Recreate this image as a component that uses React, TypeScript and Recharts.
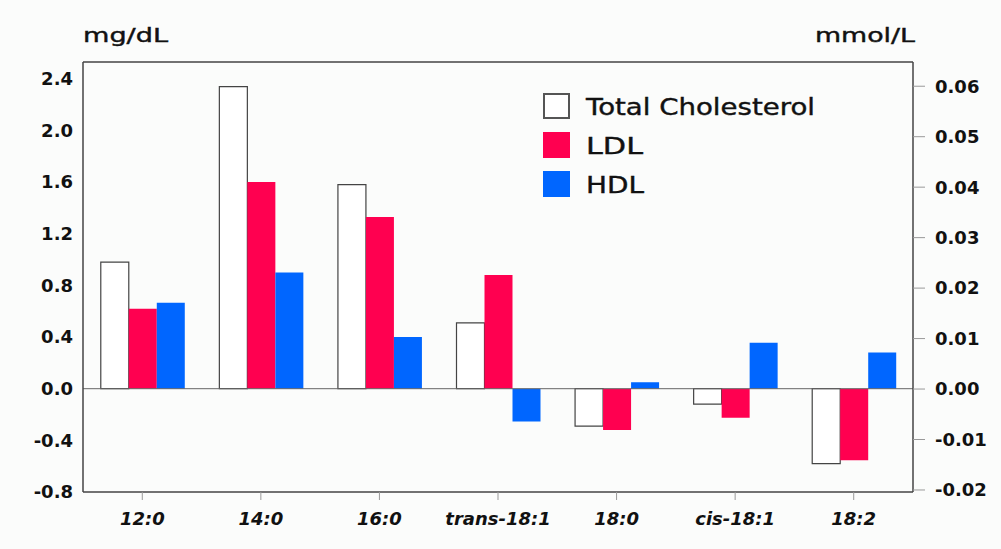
import { ComposedChart, Bar, Line, XAxis, YAxis, ReferenceLine } from "recharts";

const categories = ["12:0", "14:0", "16:0", "trans-18:1", "18:0", "cis-18:1", "18:2"];
const totalCholesterol = [0.98, 2.34, 1.58, 0.51, -0.29, -0.12, -0.58];
const ldl = [0.62, 1.6, 1.33, 0.88, -0.32, -0.225, -0.555];
const hdl = [0.665, 0.9, 0.4, -0.255, 0.05, 0.355, 0.28];

const leftTicks = [-0.8, -0.4, 0, 0.4, 0.8, 1.2, 1.6, 2.0, 2.4];
const rightTicks = [-0.02, -0.01, 0, 0.01, 0.02, 0.03, 0.04, 0.05, 0.06];

const series = [
  { key: "tc", name: "Total Cholesterol", fill: "#ffffff", stroke: "#444" },
  { key: "ldl", name: "LDL", fill: "#ff0050", stroke: "none" },
  { key: "hdl", name: "HDL", fill: "#0066ff", stroke: "none" },
];

const LEFT_MAX = 2.53;
const font = "'DejaVu Sans', sans-serif";

const data = categories.map((c, i) => ({
  name: c,
  tc: totalCholesterol[i],
  ldl: ldl[i],
  hdl: hdl[i],
}));

const App = () => {
  return (
    <div style={{ position: "absolute", left: 0, top: 0, width: 1001, height: 549, background: "#fbfcfb" }}>
      <ComposedChart
        width={1001}
        height={549}
        data={data}
        margin={{ top: 62, right: 8, bottom: 17, left: 23 }}
        barCategoryGap="15%"
        barGap={0}
      >
        <XAxis
          dataKey="name"
          height={40}
          axisLine={{ stroke: "#444", strokeWidth: 1.5 }}
          tickLine={{ stroke: "#999" }}
          tickSize={8}
          tickMargin={12}
          tick={{ fontFamily: font, fontSize: 18, fontWeight: "bold", fontStyle: "italic", fill: "#111" }}
        />
        <YAxis
          yAxisId="left"
          width={60}
          domain={[-0.8, LEFT_MAX]}
          ticks={leftTicks}
          tickFormatter={(v: number) => v.toFixed(1)}
          axisLine={{ stroke: "#444", strokeWidth: 1.5 }}
          tickLine={false}
          tickSize={0}
          tickMargin={10}
          tick={{ fontFamily: font, fontSize: 18, fontWeight: "bold", fill: "#111" }}
        />
        <YAxis
          yAxisId="right"
          orientation="right"
          width={80}
          domain={[-0.0204, 0.0648]}
          ticks={rightTicks}
          allowDataOverflow
          tickFormatter={(v: number) => v.toFixed(2)}
          axisLine={{ stroke: "#444", strokeWidth: 1.5 }}
          tickLine={{ stroke: "#999" }}
          tickSize={12}
          tickMargin={10}
          tick={{ fontFamily: font, fontSize: 18, fontWeight: "bold", fill: "#111", textAnchor: "start" }}
        />
        <ReferenceLine yAxisId="left" y={LEFT_MAX} stroke="#444" strokeWidth={1.5} />
        <ReferenceLine yAxisId="left" y={0} stroke="#666" strokeWidth={1} />
        {series.map((s) => (
          <Bar
            key={s.key}
            yAxisId="left"
            dataKey={s.key}
            name={s.name}
            fill={s.fill}
            stroke={s.stroke}
            strokeWidth={1.2}
            isAnimationActive={false}
          />
        ))}
        <Line
          yAxisId="right"
          dataKey="mmol"
          stroke="none"
          dot={false}
          legendType="none"
          isAnimationActive={false}
        />
      </ComposedChart>
      <svg
        width={1001}
        height={549}
        style={{ position: "absolute", left: 0, top: 0, pointerEvents: "none" }}
      >
        <text x={83} y={42} fontFamily={font} fontSize={19} fill="#111" stroke="#111" strokeWidth={0.4} textLength={85} lengthAdjust="spacingAndGlyphs">
          mg/dL
        </text>
        <text x={815} y={42} fontFamily={font} fontSize={19} fill="#111" stroke="#111" strokeWidth={0.4} textLength={100} lengthAdjust="spacingAndGlyphs">
          mmol/L
        </text>
        {series.map((s, i) => (
          <g key={s.key}>
            <rect
              x={544}
              y={94 + i * 39}
              width={25}
              height={24}
              fill={s.fill}
              stroke={s.key === "tc" ? "#555" : s.fill}
              strokeWidth={2}
            />
            <text
              x={586}
              y={115 + i * 39}
              fontFamily={font}
              fontSize={23}
              fill="#111"
              stroke="#111"
              strokeWidth={0.4}
              textLength={s.key === "tc" ? 229 : s.key === "ldl" ? 57 : 58}
              lengthAdjust="spacingAndGlyphs"
            >
              {s.name}
            </text>
          </g>
        ))}
      </svg>
    </div>
  );
};

export default App;
